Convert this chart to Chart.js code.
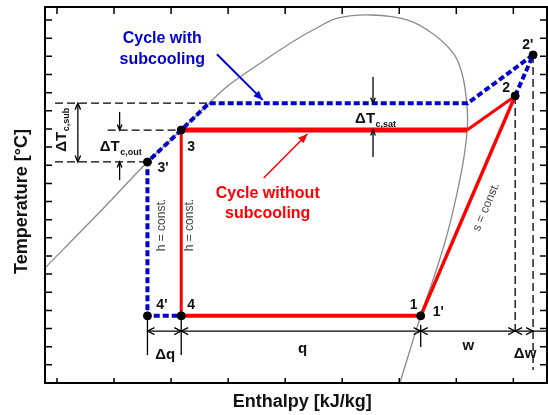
<!DOCTYPE html>
<html>
<head>
<meta charset="utf-8">
<style>
  html, body { margin: 0; padding: 0; background: #fff; overflow: hidden; }
  canvas { display: block; }
</style>
<script src="https://cdn.jsdelivr.net/npm/chart.js@4/dist/chart.umd.min.js"></script>
</head>
<body>
<canvas id="chart" width="552" height="415"></canvas>
<script>
// saturation dome: liquid line -> top -> vapour line
const domeH = [139.5, 187.5, 229.3, 258.9, 283.3, 300.7, 329.4, 359.1, 379.1, 396.5, 425.3, 457.5, 481.0, 498.4, 505.4, 508.9, 509.8, 506.3, 499.3, 490.6, 480.1, 468.8, 450.5];
const domeT = [-8.3, 7.1, 20.9, 29.7, 37.1, 42.1, 48.4, 54.5, 58.1, 60.6, 61.4, 60.0, 55.9, 50.4, 44.8, 38.0, 31.1, 21.4, 10.4, -0.6, -11.1, -21.5, -40];

// cycle without subcooling: 3 -> sat. vapour -> 2 -> 1 -> 4 -> 3
const plainH = [258.9, 509.5, 551.6, 468.8, 258.9, 258.9];
const plainT = [29.7, 29.7, 39.1, -21.5, -21.5, 29.7];

// cycle with subcooling: 2 -> 2' -> sat. vapour -> sat. liquid -> 3' -> 4' -> 4
const subH = [551.6, 567.3, 510.0, 283.3, 258.9, 229.3, 229.3, 258.9];
const subT = [39.1, 50.4, 37.1, 37.1, 29.7, 20.9, -21.5, -21.5];

// state points
const stateNames = ['1', '2', "2'", '3', "3'", '4', "4'"];
const stateH = [468.8, 551.6, 567.3, 258.9, 229.3, 258.9, 229.3];
const stateT = [-21.5, 39.1, 50.4, 29.7, 20.9, -21.5, -21.5];

// axis tick spacing
const hStep = 50;
const tStep = 5;

const pts = (xs, ys) => xs.map((v, i) => ({ x: v, y: ys[i] }));
const FONT = '"Liberation Sans", Arial, sans-serif';

const frame = {
  id: 'frame',
  afterDatasetsDraw(chart) {
    const { ctx, chartArea: a, scales: { x, y } } = chart;
    ctx.save();
    ctx.strokeStyle = '#000';
    ctx.lineWidth = 1.5;
    ctx.beginPath();
    x.ticks.forEach(tk => {
      const p = x.getPixelForValue(tk.value);
      ctx.moveTo(p, a.bottom); ctx.lineTo(p, a.bottom - 5);
      ctx.moveTo(p, a.top); ctx.lineTo(p, a.top + 7);
    });
    y.ticks.forEach(tk => {
      if (tk.value <= y.min) return;
      const p = y.getPixelForValue(tk.value);
      ctx.moveTo(a.left, p); ctx.lineTo(a.left + 7, p);
      ctx.moveTo(a.right, p); ctx.lineTo(a.right - 7, p);
    });
    ctx.stroke();
    ctx.lineWidth = 2;
    ctx.strokeRect(a.left, a.top, a.right - a.left, a.bottom - a.top);

    // axis titles
    ctx.fillStyle = '#111';
    ctx.font = 'bold 18px ' + FONT;
    ctx.textAlign = 'center';
    ctx.textBaseline = 'middle';
    ctx.fillText('Enthalpy [kJ/kg]', x.getPixelForValue(365), 402);
    ctx.translate(22, y.getPixelForValue(10));
    ctx.rotate(-Math.PI / 2);
    ctx.fillText('Temperature [°C]', 0, 0);
    ctx.restore();
  }
};

const notes = {
  id: 'notes',
  beforeDatasetsDraw(chart) {
    const { ctx, scales: { x, y } } = chart;
    const X = v => x.getPixelForValue(v), Y = v => y.getPixelForValue(v);
    ctx.save();
    ctx.strokeStyle = '#000';
    ctx.lineWidth = 1.3;
    const line = (h1, t1, h2, t2) => { ctx.beginPath(); ctx.moveTo(X(h1), Y(t1)); ctx.lineTo(X(h2), Y(t2)); ctx.stroke(); };
    // dashed extension lines
    ctx.setLineDash([8, 4]);
    line(148.3, 37.1, 283.3, 37.1);
    line(194.4, 29.7, 258.9, 29.7);
    line(148.3, 20.9, 229.3, 20.9);
    line(551.6, 39.1, 551.6, -25.7);
    line(567.3, 50.4, 567.3, -36.4);
    ctx.setLineDash([]);
    // dimension line q / w
    line(229.3, -25.7, 579.5, -25.7);
    line(229.3, -21.5, 229.3, -32.3);
    line(258.9, -21.5, 258.9, -32.3);
    line(468.8, -24.0, 468.8, -30.1);
    ctx.restore();
  },
  afterDatasetsDraw(chart) {
    const { ctx, scales: { x, y } } = chart;
    const X = v => x.getPixelForValue(v), Y = v => y.getPixelForValue(v);
    ctx.save();

    const arrow = (h1, t1, h2, t2, color, width, filled, size) => {
      const x1 = X(h1), y1 = Y(t1), x2 = X(h2), y2 = Y(t2);
      const ang = Math.atan2(y2 - y1, x2 - x1);
      ctx.strokeStyle = color; ctx.fillStyle = color; ctx.lineWidth = width;
      ctx.beginPath(); ctx.moveTo(x1, y1); ctx.lineTo(x2, y2); ctx.stroke();
      const a1 = ang + Math.PI - 0.4, a2 = ang + Math.PI + 0.4;
      ctx.beginPath();
      ctx.moveTo(x2 + size * Math.cos(a1), y2 + size * Math.sin(a1));
      ctx.lineTo(x2, y2);
      ctx.lineTo(x2 + size * Math.cos(a2), y2 + size * Math.sin(a2));
      if (filled) { ctx.closePath(); ctx.fill(); } else ctx.stroke();
    };
    const head = (h, t, dir) => {
      const px = X(h), py = Y(t);
      ctx.strokeStyle = '#000'; ctx.lineWidth = 1.2;
      ctx.beginPath();
      ctx.moveTo(px - dir * 7, py - 3.5); ctx.lineTo(px, py); ctx.lineTo(px - dir * 7, py + 3.5);
      ctx.stroke();
    };

    // delta T arrows
    arrow(168.3, 29.0, 168.3, 37.1, '#000', 1.3, false, 7);
    arrow(168.3, 29.0, 168.3, 20.9, '#000', 1.3, false, 7);
    arrow(204.9, 34.7, 204.9, 29.7, '#000', 1.3, false, 6);
    arrow(204.9, 15.9, 204.9, 20.9, '#000', 1.3, false, 6);
    arrow(427.0, 44.3, 427.0, 37.1, '#000', 1.3, false, 6);
    arrow(427.0, 22.3, 427.0, 29.7, '#000', 1.3, false, 6);
    // pointer arrows
    arrow(290.2, 50.6, 330.3, 38.0, '#0000cc', 2, true, 10);
    arrow(331.2, 16.5, 369.5, 28.6, '#ff0000', 1.5, true, 10);
    // dimension heads
    head(229.3, -25.7, -1); head(258.9, -25.7, 1);
    head(258.9, -25.7, -1); head(468.8, -25.7, 1);
    head(468.8, -25.7, -1); head(551.6, -25.7, 1);
    head(551.6, -25.7, -1); head(567.3, -25.7, 1);

    const text = (s, h, t, font, color, align, rot) => {
      ctx.save();
      ctx.translate(X(h), Y(t));
      if (rot) ctx.rotate(rot);
      ctx.font = font; ctx.fillStyle = color;
      ctx.textAlign = align || 'center'; ctx.textBaseline = 'middle';
      ctx.fillText(s, 0, 0);
      ctx.restore();
    };
    const deltaT = (sub, h, t, rot) => {
      ctx.save();
      ctx.translate(X(h), Y(t));
      if (rot) ctx.rotate(rot);
      ctx.fillStyle = '#111';
      ctx.textBaseline = 'middle'; ctx.textAlign = 'left';
      ctx.font = 'bold 15px ' + FONT;
      const w = ctx.measureText('ΔT').width;
      const ws = (ctx.font = 'bold 9px ' + FONT, ctx.measureText(sub).width);
      const x0 = rot ? -(w + ws) / 2 : 0;
      ctx.font = 'bold 15px ' + FONT;
      ctx.fillText('ΔT', x0, 0);
      ctx.font = 'bold 9px ' + FONT;
      ctx.fillText(sub, x0 + w + 0.5, 5);
      ctx.restore();
    };

    const bold16 = 'bold 16px ' + FONT;
    text('Cycle with', 242.3, 55.0, bold16, '#0000cc');
    text('subcooling', 242.3, 49.0, bold16, '#0000cc');
    text('Cycle without', 334.7, 12.3, bold16, '#ff0000');
    text('subcooling', 334.7, 6.6, bold16, '#ff0000');

    deltaT('c,sat', 411.3, 32.7);
    deltaT('c,out', 187.5, 25.0);
    deltaT('c,sub', 154.4, 29.7, -Math.PI / 2);

    const small = '12px ' + FONT;
    text('h = const.', 241.5, 3.5, small, '#444', 'center', -Math.PI / 2);
    text('h = const.', 266.7, 3.5, small, '#444', 'center', -Math.PI / 2);
    const sAng = Math.atan2(Y(stateT[1]) - Y(stateT[0]), X(stateH[1]) - X(stateH[0]));
    text('s = const.', 526.3, 8.5, small, '#444', 'center', sAng);

    const bold14 = 'bold 14px ' + FONT;
    text('1', 459.2, -18.5, bold14, '#111', 'left');
    text("1'", 479.3, -20.4, bold14, '#111', 'left');
    text('2', 540.3, 41.3, bold14, '#111', 'left');
    text("2'", 557.7, 53.1, bold14, '#111', 'left');
    text('3', 264.1, 25.0, bold14, '#111', 'left');
    text("3'", 238.0, 19.2, bold14, '#111', 'left');
    text('4', 264.1, -18.5, bold14, '#111', 'left');
    text("4'", 237.1, -18.5, bold14, '#111', 'left');

    const bold15 = 'bold 15px ' + FONT;
    text('Δq', 244.9, -32.3, bold15, '#111');
    text('q', 365.2, -30.6, bold15, '#111');
    text('w', 510.6, -29.8, bold15, '#111');
    text('Δw', 560.3, -32.0, bold15, '#111');
    ctx.restore();
  }
};

const plainWidths = [5, 3, 3.5, 4, 3];

new Chart(document.getElementById('chart'), {
  type: 'scatter',
  data: {
    datasets: [
      {
        label: 'States',
        data: pts(stateH, stateT),
        showLine: false,
        pointRadius: 4,
        pointBackgroundColor: '#000',
        pointBorderColor: '#000'
      },
      {
        label: 'Cycle with subcooling',
        data: pts(subH, subT),
        showLine: true,
        borderColor: '#0000cc',
        borderWidth: 4,
        borderDash: [6, 3],
        pointRadius: 0,
        tension: 0
      },
      {
        label: 'Cycle without subcooling',
        data: pts(plainH, plainT),
        showLine: true,
        borderColor: '#ff0000',
        borderJoinStyle: 'miter',
        pointRadius: 0,
        tension: 0,
        segment: { borderWidth: ctx => plainWidths[ctx.p0DataIndex] }
      },
      {
        label: 'Saturation',
        data: pts(domeH, domeT),
        showLine: true,
        borderColor: '#8a8a8a',
        borderWidth: 1.3,
        pointRadius: 0,
        tension: 0.35
      }
    ]
  },
  options: {
    responsive: false,
    animation: false,
    devicePixelRatio: 1,
    layout: { padding: { left: 45, top: 7, right: 2, bottom: 32 } },
    plugins: { legend: { display: false }, tooltip: { enabled: false } },
    scales: {
      x: {
        type: 'linear', min: 139.5, max: 579.5,
        ticks: { display: false, stepSize: hStep, includeBounds: false },
        grid: { display: false, drawTicks: false },
        border: { display: false },
        afterFit: s => { s.height = 0; }
      },
      y: {
        type: 'linear', min: -40, max: 63.6,
        ticks: { display: false, stepSize: tStep, includeBounds: false },
        grid: { display: false, drawTicks: false },
        border: { display: false },
        afterFit: s => { s.width = 0; }
      }
    }
  },
  plugins: [notes, frame]
});
</script>
</body>
</html>
